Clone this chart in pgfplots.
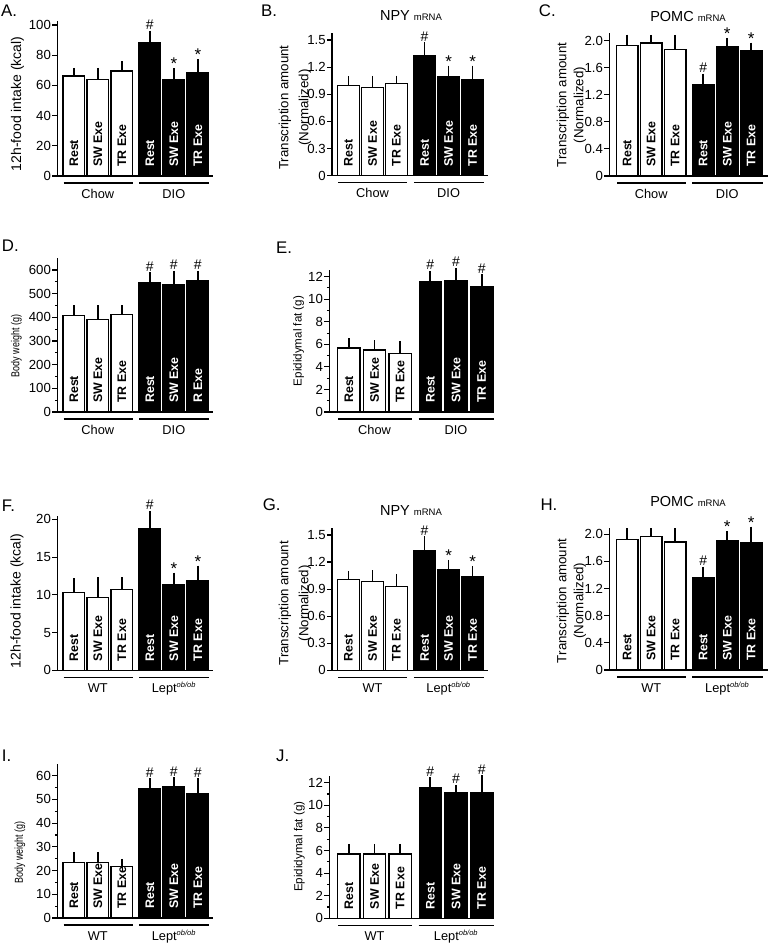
\documentclass[border=0pt]{standalone}
\usepackage{fontspec}
\setmainfont{Liberation Sans}
\usepackage{graphicx}
\usepackage{pgfplots}
\pgfplotsset{compat=1.18}
\newcommand\fs[1]{\fontsize{#1}{#1}\selectfont}
\tikzset{
  bl/.style={rotate=90, anchor=west, font=\bfseries\fs{12.4}, inner xsep=9pt, inner ysep=0pt},
  yl/.style={rotate=90, font=\fs{14}, inner sep=0pt},
  yl2/.style={rotate=90, font=\fs{13.3}, inner sep=0pt},
  plet/.style={anchor=base west, font=\fs{16.8}, inner sep=0pt},
}
\pgfplotsset{
  panel/.style={
    scale only axis, clip=false,
    axis x line=bottom, axis y line=left,
    axis line style={line width=1.3pt,-},
    xtick=\empty, ymin=0,
    tick align=outside,
    major tick length=5pt, minor tick length=2.5pt,
    ytick style={line width=1.1pt,black},
    yticklabel style={font=\fs{13.2}, inner sep=1.2pt},
    /pgf/number format/assume math mode=true,
    anchor=south west,
  },
  pA/.style={panel, width=156pt, xmin=-0.6875, xmax=5.8125, bar width=21.5pt},
  pC/.style={panel, width=158.7pt, xmin=-0.746, xmax=5.867, bar width=21.7pt},
  pE/.style={panel, width=164pt, xmin=-0.759, xmax=5.62, bar width=22.3pt},
  wbar/.style={ybar, bar shift=0pt, fill=white, draw=black, line width=1.3pt,
    error bars/y dir=plus, error bars/y explicit,
    error bars/error bar style={line width=1.7pt,black},
    error bars/error mark options={line width=1.7pt,black,mark size=3.5pt}},
  bbar/.style={wbar, fill=black},
}
\newcommand\barlabs[6]{%
  \node[bl] at (axis cs:0,0) {#1};
  \node[bl] at (axis cs:1,0) {#2};
  \node[bl] at (axis cs:2,0) {#3};
  \node[bl,white] at (axis cs:3.17,0) {#4};
  \node[bl,white] at (axis cs:4.17,0) {#5};
  \node[bl,white] at (axis cs:5.17,0) {#6};}
\newcommand\grp[2]{%
  \draw[line width=1.3pt] ([yshift=-7pt]axis cs:-0.42,0) -- ([yshift=-7pt]axis cs:2.45,0);
  \draw[line width=1.3pt] ([yshift=-7pt]axis cs:2.72,0) -- ([yshift=-7pt]axis cs:5.65,0);
  \node[font=\fs{12.8}, anchor=base, inner sep=0pt] at ([yshift=-22pt]axis cs:1,0) {#1};
  \node[font=\fs{12.8}, anchor=base, inner sep=0pt] at ([yshift=-22pt]axis cs:4.17,0) {#2};}
\newcommand\annH[2]{\node[font=\fs{14}, anchor=base, inner sep=0pt] at ([yshift=4.5pt]axis cs:#1,#2) {\#};}
\newcommand\annS[2]{\node[font=\fs{17}, anchor=base, inner sep=0pt] at ([yshift=2pt]axis cs:#1,#2) {*};}
\newcommand\lep{Lept\textsuperscript{\itshape\fs{7.5}ob/ob}}
\begin{document}
\begin{tikzpicture}
\path[use as bounding box] (0pt,0pt) rectangle (768pt,-944pt);
% ---------------- A
\begin{axis}[pA, at={(57.3pt,-176pt)}, height=154.8pt, ymax=102.5, ytick={0,20,40,60,80,100}]
\addplot[wbar] coordinates {(0,66.2) +- (0,3.1) (1,64) +- (0,5.3) (2,69.5) +- (0,4.2)};
\addplot[bbar] coordinates {(3.17,88) +- (0,6) (4.17,63.6) +- (0,5.4) (5.17,68.7) +- (0,6.3)};
\barlabs{Rest}{SW Exe}{TR Exe}{Rest}{SW Exe}{TR Exe}
\grp{Chow}{DIO}
\annH{3.17}{94}\annS{4.17}{69}\annS{5.17}{75}
\end{axis}
% ---------------- B
\begin{axis}[pA, at={(332pt,-175.7pt)}, height=142.4pt, ymax=1.574, ytick={0,0.3,0.6,0.9,1.2,1.5}, yticklabels={0,0.3,0.6,0.9,1.2,1.5}]
\addplot[wbar] coordinates {(0,1.0) +- (0,0.06) (1,0.975) +- (0,0.09) (2,1.02) +- (0,0.048)};
\addplot[bbar] coordinates {(3.17,1.324) +- (0,0.11) (4.17,1.10) +- (0,0.077) (5.17,1.062) +- (0,0.115)};
\barlabs{Rest}{SW Exe}{TR Exe}{Rest}{SW Exe}{TR Exe}
\grp{Chow}{DIO}
\annH{3.17}{1.434}\annS{4.17}{1.177}\annS{5.17}{1.177}
\end{axis}
% ---------------- C
\begin{axis}[pC, at={(609.3pt,-176pt)}, height=142.7pt, ymax=2.11, ytick={0,0.4,0.8,1.2,1.6,2.0}, yticklabels={0,0.4,0.8,1.2,1.6,2.0}]
\addplot[wbar] coordinates {(0,1.93) +- (0,0.11) (1,1.965) +- (0,0.07) (2,1.866) +- (0,0.17)};
\addplot[bbar] coordinates {(3.17,1.355) +- (0,0.108) (4.17,1.911) +- (0,0.079) (5.17,1.852) +- (0,0.069)};
\barlabs{Rest}{SW Exe}{TR Exe}{Rest}{SW Exe}{TR Exe}
\grp{Chow}{DIO}
\annH{3.17}{1.463}\annS{4.17}{1.99}\annS{5.17}{1.921}
\end{axis}
% ---------------- D
\begin{axis}[pA, at={(57.3pt,-412pt)}, height=153.6pt, ymax=649, ytick={0,100,200,300,400,500,600}, minor y tick num=1]
\addplot[wbar] coordinates {(0,407) +- (0,29) (1,390) +- (0,46) (2,411) +- (0,25)};
\addplot[bbar] coordinates {(3.17,546) +- (0,30) (4.17,536) +- (0,46) (5.17,555) +- (0,27)};
\barlabs{Rest}{SW Exe}{TR Exe}{Rest}{SW Exe}{R Exe}
\grp{Chow}{DIO}
\annH{3.17}{576}\annH{4.17}{582}\annH{5.17}{582}
\end{axis}
% ---------------- E
\begin{axis}[pE, at={(329.3pt,-412pt)}, height=142.1pt, ymax=12.6, ytick={0,2,4,6,8,10,12}, minor y tick num=1]
\addplot[wbar] coordinates {(0,5.67) +- (0,0.56) (1,5.5) +- (0,0.53) (2,5.17) +- (0,0.83)};
\addplot[bbar] coordinates {(3.17,11.55) +- (0,0.65) (4.17,11.64) +- (0,0.83) (5.17,11.14) +- (0,0.76)};
\barlabs{Rest}{SW Exe}{TR Exe}{Rest}{SW Exe}{TR Exe}
\grp{Chow}{DIO}
\annH{3.17}{12.2}\annH{4.17}{12.47}\annH{5.17}{11.9}
\end{axis}
% ---------------- F
\begin{axis}[pA, at={(57.3pt,-670.3pt)}, height=154.3pt, ymax=20.44, ytick={0,5,10,15,20}]
\addplot[wbar] coordinates {(0,10.28) +- (0,1.42) (1,9.62) +- (0,2.25) (2,10.73) +- (0,1.14)};
\addplot[bbar] coordinates {(3.17,18.7) +- (0,1.96) (4.17,11.34) +- (0,1.15) (5.17,11.87) +- (0,1.53)};
\barlabs{Rest}{SW Exe}{TR Exe}{Rest}{SW Exe}{TR Exe}
\grp{WT}{\lep}
\annH{3.17}{20.66}\annS{4.17}{12.49}\annS{5.17}{13.4}
\end{axis}
% ---------------- G
\begin{axis}[pA, at={(332pt,-670.3pt)}, height=142.0pt, ymax=1.574, ytick={0,0.3,0.6,0.9,1.2,1.5}, yticklabels={0,0.3,0.6,0.9,1.2,1.5}]
\addplot[wbar] coordinates {(0,1.004) +- (0,0.06) (1,0.982) +- (0,0.089) (2,0.927) +- (0,0.104)};
\addplot[bbar] coordinates {(3.17,1.33) +- (0,0.115) (4.17,1.12) +- (0,0.066) (5.17,1.038) +- (0,0.077)};
\barlabs{Rest}{SW Exe}{TR Exe}{Rest}{SW Exe}{TR Exe}
\grp{WT}{\lep}
\annH{3.17}{1.445}\annS{4.17}{1.186}\annS{5.17}{1.115}
\end{axis}
% ---------------- H
\begin{axis}[pC, at={(609.3pt,-670pt)}, height=142.5pt, ymax=2.10, ytick={0,0.4,0.8,1.2,1.6,2.0}, yticklabels={0,0.4,0.8,1.2,1.6,2.0}]
\addplot[wbar] coordinates {(0,1.927) +- (0,0.108) (1,1.965) +- (0,0.07) (2,1.887) +- (0,0.148)};
\addplot[bbar] coordinates {(3.17,1.356) +- (0,0.114) (4.17,1.906) +- (0,0.084) (5.17,1.877) +- (0,0.183)};
\barlabs{Rest}{SW Exe}{TR Exe}{Rest}{SW Exe}{TR Exe}
\grp{WT}{\lep}
\annH{3.17}{1.47}\annS{4.17}{1.99}\annS{5.17}{2.06}
\end{axis}
% ---------------- I
\begin{axis}[pA, at={(57.3pt,-918pt)}, height=153.9pt, ymax=64.9, ytick={0,10,20,30,40,50,60}, minor y tick num=1]
\addplot[wbar] coordinates {(0,23.3) +- (0,3.1) (1,23.3) +- (0,3.1) (2,21.6) +- (0,1.9)};
\addplot[bbar] coordinates {(3.17,54.4) +- (0,3.1) (4.17,55.2) +- (0,2.7) (5.17,52.4) +- (0,5.1)};
\barlabs{Rest}{SW Exe}{TR Exe}{Rest}{SW Exe}{TR Exe}
\grp{WT}{\lep}
\annH{3.17}{57.5}\annH{4.17}{57.9}\annH{5.17}{57.5}
\end{axis}
% ---------------- J
\begin{axis}[pE, at={(329.3pt,-918.3pt)}, height=142.4pt, ymax=12.6, ytick={0,2,4,6,8,10,12}, minor y tick num=1]
\addplot[wbar] coordinates {(0,5.69) +- (0,0.59) (1,5.69) +- (0,0.59) (2,5.69) +- (0,0.59)};
\addplot[bbar] coordinates {(3.17,11.56) +- (0,0.59) (4.17,11.12) +- (0,0.38) (5.17,11.1) +- (0,1.23)};
\barlabs{Rest}{SW Exe}{TR Exe}{Rest}{SW Exe}{TR Exe}
\grp{WT}{\lep}
\annH{3.17}{12.15}\annH{4.17}{11.5}\annH{5.17}{12.33}
\end{axis}
% ---------------- labels
\node[plet] at (1pt,-17pt) {A.};
\node[plet] at (261pt,-17pt) {B.};
\node[plet] at (538.7pt,-17pt) {C.};
\node[plet] at (1.7pt,-251.7pt) {D.};
\node[plet] at (276pt,-253.3pt) {E.};
\node[plet] at (1.7pt,-511.7pt) {F.};
\node[plet] at (262.7pt,-510pt) {G.};
\node[plet] at (540.3pt,-510pt) {H.};
\node[plet] at (1.7pt,-761.7pt) {I.};
\node[plet] at (276pt,-761.7pt) {J.};
\node[anchor=base, inner sep=0pt] at (411pt,-20.7pt) {\fs{14.5}NPY \fs{9.5}mRNA};
\node[anchor=base, inner sep=0pt] at (688pt,-21.7pt) {\fs{14.5}POMC \fs{9.5}mRNA};
\node[anchor=base, inner sep=0pt] at (411pt,-515pt) {\fs{14.5}NPY \fs{9.5}mRNA};
\node[anchor=base, inner sep=0pt] at (688pt,-506.7pt) {\fs{14.5}POMC \fs{9.5}mRNA};
\node[yl] at (17.5pt,-104pt) {12h-food intake (kcal)};
\node[yl] at (17pt,-601pt) {12h-food intake (kcal)};
\node[yl2] at (285pt,-107.5pt) {Transcription amount};
\node[yl2] at (305pt,-107.5pt) {(Normalized)};
\node[yl2] at (563pt,-105pt) {Transcription amount};
\node[yl2] at (580pt,-105pt) {(Normalized)};
\node[yl2] at (285pt,-603.3pt) {Transcription amount};
\node[yl2] at (305pt,-603.3pt) {(Normalized)};
\node[yl2] at (563pt,-600.8pt) {Transcription amount};
\node[yl2] at (580pt,-600.8pt) {(Normalized)};
\node[yl, font=\fs{11.5}] at (16.3pt,-346pt) {\scalebox{0.78}[1]{Body weight (g)}};
\node[yl, font=\fs{11.5}] at (20pt,-852.5pt) {\scalebox{0.78}[1]{Body weight (g)}};
\node[yl, font=\fs{11.6}] at (298.7pt,-341pt) {Epididymal fat (g)};
\node[yl, font=\fs{11.6}] at (299.3pt,-846.7pt) {Epididymal fat (g)};
\end{tikzpicture}
\end{document}
